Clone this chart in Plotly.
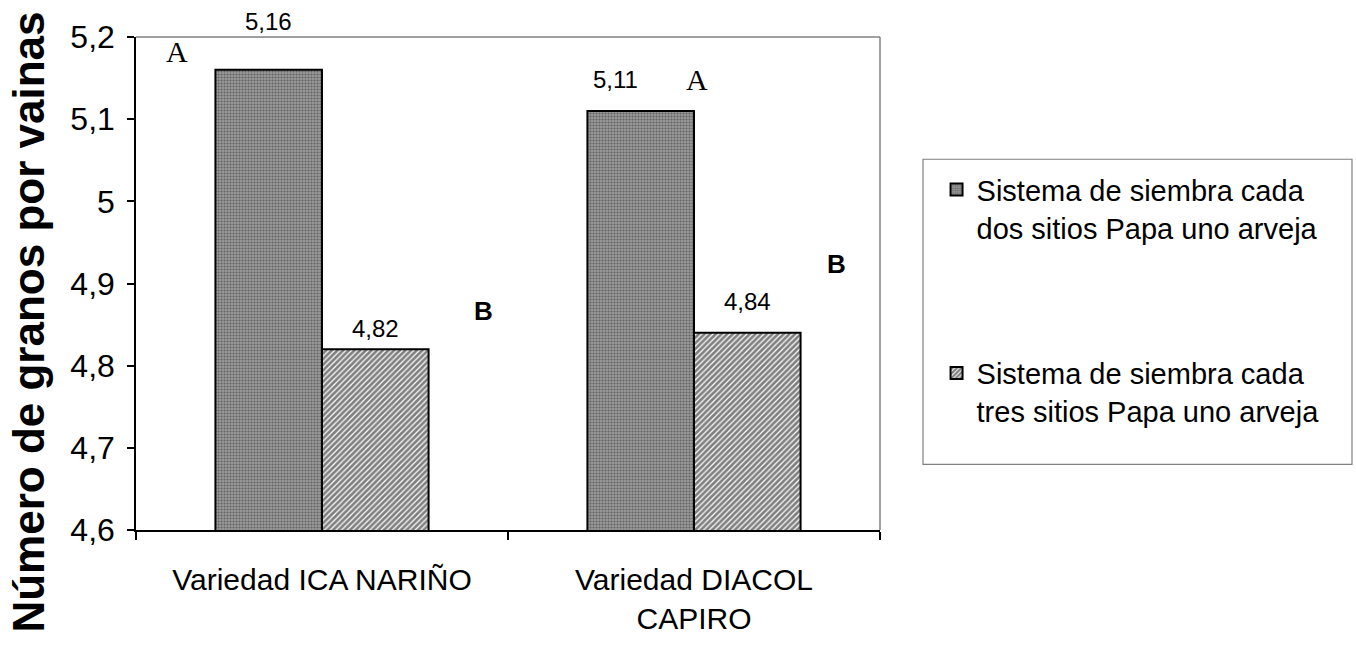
import plotly.graph_objects as go

categories = ["Variedad ICA NARIÑO", "Variedad DIACOL<br>CAPIRO"]
series_names = ["Sistema de siembra cada<br>dos sitios Papa uno arveja",
                "Sistema de siembra cada<br>tres sitios Papa uno arveja"]
dos_sitios = [5.16, 5.11]
tres_sitios = [4.82, 4.84]
value_labels_dos = ["5,16", "5,11"]
value_labels_tres = ["4,82", "4,84"]
y_title = "Número de granos por vainas"

SANS = "Liberation Sans, Arial, sans-serif"
SERIF = "Liberation Serif, Times New Roman, serif"
BARGAP = 0.427
half = (1 - BARGAP) / 4  # centre offset of each bar inside its group

fig = go.Figure()
fig.add_trace(go.Bar(
    x=categories, y=dos_sitios, name=series_names[0], legendgroup="g1",
    marker=dict(color="#8c8c8c", line=dict(color="black", width=2),
                pattern=dict(shape=".", fgcolor="#2e2e2e", bgcolor="#999999",
                             size=3, solidity=0.4)),
))
fig.add_trace(go.Bar(
    x=categories, y=tres_sitios, name=series_names[1], legendgroup="g2",
    marker=dict(color="white", line=dict(color="black", width=2),
                pattern=dict(shape="/", fgcolor="black", bgcolor="white",
                             size=4, solidity=0.7)),
))

ann = []
shifts_dos = [(0, 48), (-25, 31)]
shifts_tres = [(0, 21), (0, 31)]
for i in range(2):
    ann.append(dict(x=i - half, y=dos_sitios[i], xref="x", yref="y",
                    text=value_labels_dos[i], showarrow=False,
                    xshift=shifts_dos[i][0], yshift=shifts_dos[i][1],
                    font=dict(family=SANS, size=24, color="black")))
    ann.append(dict(x=i + half, y=tres_sitios[i], xref="x", yref="y",
                    text=value_labels_tres[i], showarrow=False,
                    xshift=shifts_tres[i][0], yshift=shifts_tres[i][1],
                    font=dict(family=SANS, size=24, color="black")))
for (lx, ly) in [(-0.39, 5.182), (1.008, 5.148)]:
    ann.append(dict(x=lx, y=ly, xref="x", yref="y", text="A", showarrow=False,
                    font=dict(family=SERIF, size=30, color="black")))
for (lx, ly) in [(0.433, 4.866), (1.382, 4.924)]:
    ann.append(dict(x=lx, y=ly, xref="x", yref="y", text="<b>B</b>", showarrow=False,
                    font=dict(family=SANS, size=26, color="black")))
ann.append(dict(x=-0.145, y=0.421, xref="paper", yref="paper",
                text="<b>" + y_title + "</b>", textangle=-90, showarrow=False,
                xanchor="center", yanchor="middle",
                font=dict(family=SANS, size=44, color="black")))

shapes = [
    dict(type="line", xref="paper", yref="paper", x0=0, x1=1, y0=1, y1=1,
         line=dict(color="#808080", width=1.5)),
    dict(type="line", xref="paper", yref="paper", x0=1, x1=1, y0=0, y1=1,
         line=dict(color="#808080", width=1.5)),
    dict(type="rect", xref="paper", yref="paper", x0=1.0578, x1=1.6344,
         y0=0.1331, y1=0.752, line=dict(color="#808080", width=1.2)),
]

fig.update_layout(
    width=1356, height=647,
    margin=dict(l=136, r=476, t=37, b=114, pad=0),
    paper_bgcolor="white", plot_bgcolor="white",
    separators=",.",
    barmode="group", bargap=BARGAP, bargroupgap=0,
    font=dict(family=SANS, size=30, color="black"),
    showlegend=True,
    legend=dict(x=1.076, y=0.742, xanchor="left", yanchor="top",
                bgcolor="rgba(0,0,0,0)", borderwidth=0,
                font=dict(family=SANS, size=29, color="black"),
                tracegroupgap=105, valign="top", itemwidth=30),
    annotations=ann,
    shapes=shapes,
    xaxis=dict(showline=True, linecolor="black", linewidth=1.5,
               ticks="outside", tickson="boundaries", ticklen=8,
               tickcolor="black", tickwidth=1.5, ticklabelstandoff=22,
               showgrid=False, tickfont=dict(family=SANS, size=30)),
    yaxis=dict(range=[4.6, 5.2], dtick=0.1, tick0=4.6,
               showline=True, linecolor="black", linewidth=1.5,
               ticks="outside", ticklen=7, tickcolor="black", tickwidth=1.5,
               ticklabelstandoff=6, showgrid=False, zeroline=False,
               tickfont=dict(family=SANS, size=32)),
)

fig.write_html("out.html")
